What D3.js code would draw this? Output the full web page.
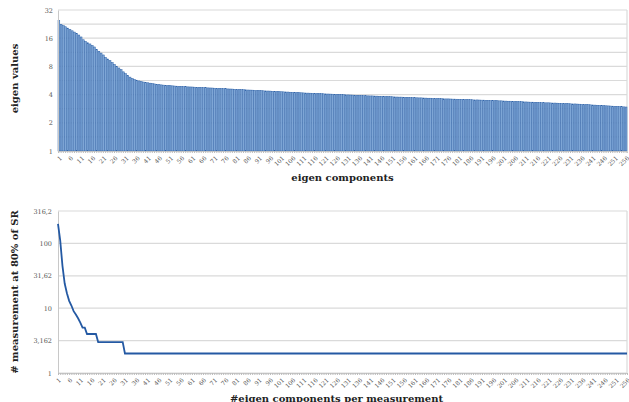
<!DOCTYPE html>
<html>
<head>
<meta charset="utf-8">
<script src="https://cdn.jsdelivr.net/npm/d3@7"></script>
<style>
  body { margin: 0; background: #fff; }
  svg { display: block; }
  .tick text { fill: #555; font-family: "DejaVu Serif", serif; font-size: 6.5px; }
  .title { font-family: "DejaVu Serif", serif; font-weight: bold; font-size: 10px; fill: #222; }
</style>
</head>
<body>
<div id="chart"></div>
<script>
// eigen values, one per component
const eigenValues = [
  24.6, 22.5, 21.8, 21.2, 20.5, 19.8, 19.2, 18.6, 18.0, 17.3,
  16.5, 15.4, 14.8, 14.3, 13.9, 13.4, 12.9, 12.1, 11.6, 11.1,
  10.6, 10.0, 9.6, 9.2, 8.8, 8.4, 8.0, 7.7, 7.4, 7.0,
  6.7, 6.4, 6.15, 5.95, 5.8, 5.7, 5.6, 5.52, 5.45, 5.4,
  5.35, 5.3, 5.25, 5.2, 5.16, 5.12, 5.08, 5.05, 5.02, 4.99,
  4.98, 4.96, 4.94, 4.92, 4.90, 4.89, 4.87, 4.86, 4.84, 4.83,
  4.82, 4.80, 4.79, 4.78, 4.76, 4.75, 4.74, 4.72, 4.71, 4.70,
  4.68, 4.67, 4.66, 4.64, 4.63, 4.62, 4.60, 4.59, 4.58, 4.56,
  4.55, 4.54, 4.52, 4.51, 4.50, 4.48, 4.47, 4.46, 4.45, 4.43,
  4.42, 4.41, 4.39, 4.38, 4.37, 4.36, 4.34, 4.33, 4.32, 4.31,
  4.29, 4.28, 4.27, 4.26, 4.24, 4.23, 4.22, 4.21, 4.19, 4.18,
  4.17, 4.16, 4.15, 4.14, 4.13, 4.12, 4.11, 4.10, 4.09, 4.08,
  4.07, 4.06, 4.05, 4.04, 4.03, 4.02, 4.01, 4.00, 3.99, 3.98,
  3.97, 3.96, 3.95, 3.94, 3.93, 3.92, 3.91, 3.90, 3.89, 3.88,
  3.87, 3.87, 3.86, 3.85, 3.84, 3.83, 3.82, 3.81, 3.80, 3.80,
  3.79, 3.78, 3.77, 3.76, 3.76, 3.75, 3.74, 3.73, 3.72, 3.72,
  3.71, 3.70, 3.69, 3.69, 3.68, 3.67, 3.66, 3.66, 3.65, 3.64,
  3.63, 3.63, 3.62, 3.61, 3.60, 3.60, 3.59, 3.58, 3.58, 3.57,
  3.56, 3.56, 3.55, 3.54, 3.53, 3.53, 3.52, 3.51, 3.51, 3.50,
  3.49, 3.49, 3.48, 3.47, 3.46, 3.46, 3.45, 3.44, 3.43, 3.43,
  3.42, 3.41, 3.40, 3.40, 3.39, 3.38, 3.37, 3.36, 3.36, 3.35,
  3.34, 3.33, 3.32, 3.32, 3.31, 3.30, 3.29, 3.28, 3.28, 3.27,
  3.27, 3.26, 3.25, 3.25, 3.24, 3.23, 3.22, 3.22, 3.21, 3.20,
  3.19, 3.18, 3.18, 3.17, 3.16, 3.15, 3.14, 3.13, 3.12, 3.11,
  3.10, 3.09, 3.08, 3.07, 3.06, 3.05, 3.04, 3.03, 3.02, 3.01,
  3.00, 2.99, 2.98, 2.97, 2.96, 2.95
];

// # measurements needed at 80% of SR, per number of eigen components
const measurements = [
  200, 110, 45, 24, 17, 13, 11, 9, 8, 7,
  6, 5, 5, 4, 4, 4, 4, 4, 3, 3,
  3, 3, 3, 3, 3, 3, 3, 3, 3, 3,
  2, 2, 2, 2, 2, 2, 2, 2, 2, 2, 2, 2, 2, 2, 2, 2, 2, 2, 2, 2,
  2, 2, 2, 2, 2, 2, 2, 2, 2, 2, 2, 2, 2, 2, 2, 2, 2, 2, 2, 2,
  2, 2, 2, 2, 2, 2, 2, 2, 2, 2, 2, 2, 2, 2, 2, 2, 2, 2, 2, 2,
  2, 2, 2, 2, 2, 2, 2, 2, 2, 2, 2, 2, 2, 2, 2, 2, 2, 2, 2, 2,
  2, 2, 2, 2, 2, 2, 2, 2, 2, 2, 2, 2, 2, 2, 2, 2, 2, 2, 2, 2,
  2, 2, 2, 2, 2, 2, 2, 2, 2, 2, 2, 2, 2, 2, 2, 2, 2, 2, 2, 2,
  2, 2, 2, 2, 2, 2, 2, 2, 2, 2, 2, 2, 2, 2, 2, 2, 2, 2, 2, 2,
  2, 2, 2, 2, 2, 2, 2, 2, 2, 2, 2, 2, 2, 2, 2, 2, 2, 2, 2, 2,
  2, 2, 2, 2, 2, 2, 2, 2, 2, 2, 2, 2, 2, 2, 2, 2, 2, 2, 2, 2,
  2, 2, 2, 2, 2, 2, 2, 2, 2, 2, 2, 2, 2, 2, 2, 2, 2, 2, 2, 2,
  2, 2, 2, 2, 2, 2, 2, 2, 2, 2, 2, 2, 2, 2, 2, 2, 2, 2, 2, 2,
  2, 2, 2, 2, 2, 2
];

const components = eigenValues.map((d, i) => i + 1);
const xTickLabels = components.filter((d, i) => i % 5 === 0);

const topTicks = [1, 2, 4, 8, 16, 32];
const topMinorGrid = [1.414, 2.828, 5.657, 11.31, 22.63];
const bottomTicks = [1, 3.162, 10, 31.62, 100, 316.2];

const W = 629, H = 402;
const left = 58, right = 627;

const svg = d3.select("#chart").append("svg")
    .attr("width", W)
    .attr("height", H);

const gridColor = "#dadada";

// ---------- top chart: eigen values ----------
const t_top = 10, t_bottom = 151;

const tx = d3.scaleBand()
    .domain(components)
    .range([left, right])
    .paddingInner(0.2);

const ty = d3.scaleLog().base(2)
    .domain([1, 32])
    .range([t_bottom, t_top]);

const topG = svg.append("g");

// grid lines (major + minor)
topG.selectAll(".gridT")
    .data(topTicks.concat(topMinorGrid))
    .join("line")
    .attr("x1", left).attr("x2", right)
    .attr("y1", d => ty(d)).attr("y2", d => ty(d))
    .attr("stroke", gridColor)
    .attr("stroke-width", 1.2);

topG.append("line")
    .attr("x1", right).attr("x2", right)
    .attr("y1", t_top).attr("y2", t_bottom)
    .attr("stroke", gridColor).attr("stroke-width", 1.2);

topG.selectAll("rect")
    .data(eigenValues)
    .join("rect")
    .attr("x", (d, i) => tx(components[i]))
    .attr("width", tx.bandwidth())
    .attr("y", d => ty(d))
    .attr("height", d => ty(1) - ty(d))
    .attr("fill", "#7ea6d6")
    .attr("stroke", "#2e62a8")
    .attr("stroke-width", 0.5);

const topYAxis = topG.append("g")
    .attr("transform", `translate(${left},0)`)
    .call(d3.axisLeft(ty).tickValues(topTicks).tickFormat(d3.format("d")).tickSize(0).tickPadding(5));
topYAxis.select(".domain").attr("stroke", "#c8c8c8");

const topXAxis = topG.append("g")
    .attr("transform", `translate(0,${t_bottom})`)
    .call(d3.axisBottom(tx).tickSize(2).tickFormat(""));
topXAxis.select(".domain").attr("stroke", "#c8c8c8");
topXAxis.selectAll(".tick line").attr("stroke", "#bbb");

topXAxis.selectAll(".lbl")
    .data(xTickLabels)
    .join("text")
    .attr("class", "tick")
    .attr("transform", d => `translate(${tx(d) + tx.bandwidth() / 2 + 2},${6}) rotate(-45)`)
    .attr("text-anchor", "end")
    .attr("dy", "0.35em")
    .style("fill", "#555")
    .style("font-family", "DejaVu Serif, serif")
    .style("font-size", "6px")
    .text(d => d);

svg.append("text")
    .attr("class", "title")
    .attr("x", (left + right) / 2)
    .attr("y", 181)
    .attr("text-anchor", "middle")
    .text("eigen components");

svg.append("text")
    .attr("class", "title")
    .attr("transform", `translate(18,${(t_top + t_bottom) / 2 - 2}) rotate(-90)`)
    .attr("text-anchor", "middle")
    .text("eigen values");

// ---------- bottom chart: measurements ----------
const b_top = 211, b_bottom = 373;

const bx = d3.scalePoint()
    .domain(components)
    .range([left, right]);

const by = d3.scaleLog()
    .domain([1, 316.2])
    .range([b_bottom, b_top]);

const botG = svg.append("g");

botG.selectAll(".gridB")
    .data(bottomTicks)
    .join("line")
    .attr("x1", left).attr("x2", right)
    .attr("y1", d => by(d)).attr("y2", d => by(d))
    .attr("stroke", gridColor)
    .attr("stroke-width", 1.2);

botG.append("line")
    .attr("x1", right).attr("x2", right)
    .attr("y1", b_top).attr("y2", b_bottom)
    .attr("stroke", gridColor).attr("stroke-width", 1.2);

const commaFmt = d => String(d).replace(".", ",");

const botYAxis = botG.append("g")
    .attr("transform", `translate(${left},0)`)
    .call(d3.axisLeft(by).tickValues(bottomTicks).tickFormat(commaFmt).tickSize(0).tickPadding(6));
botYAxis.select(".domain").attr("stroke", "#c8c8c8");

const botXAxis = botG.append("g")
    .attr("transform", `translate(0,${b_bottom})`)
    .call(d3.axisBottom(bx).tickSize(2).tickFormat(""));
botXAxis.select(".domain").attr("stroke", "#c8c8c8");
botXAxis.selectAll(".tick line").attr("stroke", "#bbb");

botXAxis.selectAll(".lbl")
    .data(xTickLabels)
    .join("text")
    .attr("transform", d => `translate(${bx(d) + 2},${6}) rotate(-45)`)
    .attr("text-anchor", "end")
    .attr("dy", "0.35em")
    .style("fill", "#555")
    .style("font-family", "DejaVu Serif, serif")
    .style("font-size", "6px")
    .text(d => d);

const line = d3.line()
    .x((d, i) => bx(components[i]))
    .y(d => by(d));

botG.append("path")
    .datum(measurements)
    .attr("d", line)
    .attr("fill", "none")
    .attr("stroke", "#2459a3")
    .attr("stroke-width", 1.8);

svg.append("text")
    .attr("class", "title")
    .attr("x", (left + right) / 2 - 6)
    .attr("y", 402)
    .attr("text-anchor", "middle")
    .text("#eigen components per measurement");

svg.append("text")
    .attr("class", "title")
    .attr("transform", `translate(18,${(b_top + b_bottom) / 2}) rotate(-90)`)
    .attr("text-anchor", "middle")
    .text("# measurement at 80% of SR");
</script>
</body>
</html>
